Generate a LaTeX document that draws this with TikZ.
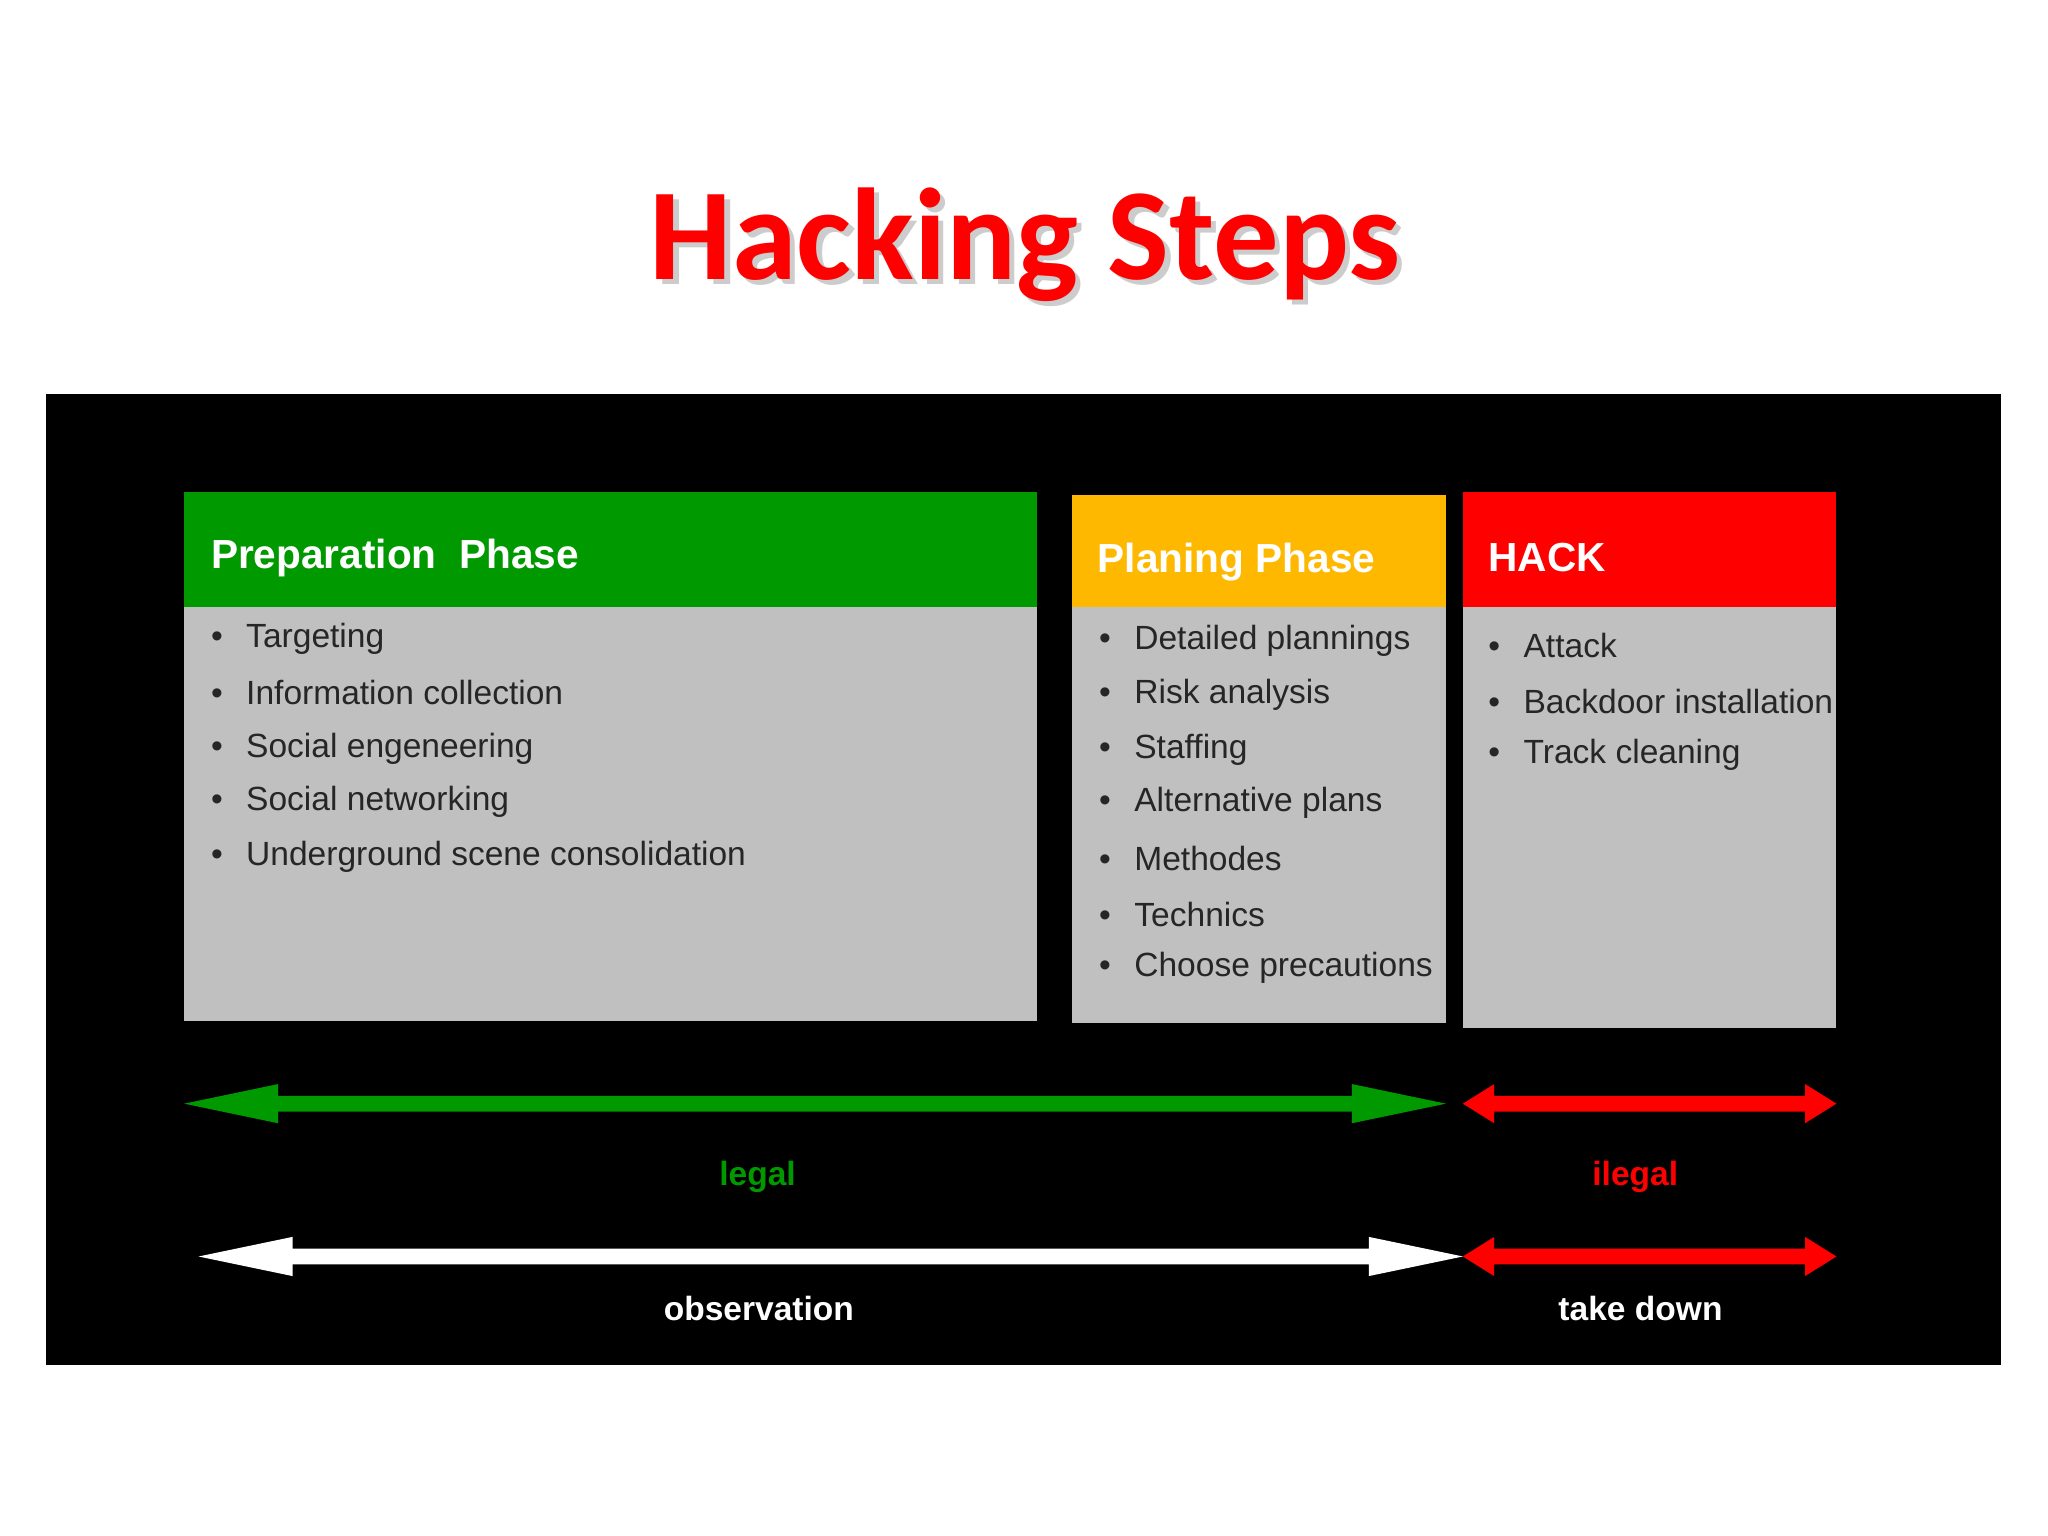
\documentclass[tikz,border=0pt]{standalone}
\usepackage{fontspec}
\setmainfont{Liberation Sans}
\newfontfamily\titlefont{Carlito}
\definecolor{gr}{RGB}{0,153,0}
\definecolor{og}{RGB}{255,184,0}
\definecolor{rd}{RGB}{255,0,0}
\definecolor{lg}{RGB}{192,192,192}
\newcommand{\dblarrow}[5]{% x1,x2,y,head,color
  \fill[#5] (#1,#3) -- (#1+#4,#3-15) -- (#1+#4,#3-6) -- (#2-#4,#3-6) -- (#2-#4,#3-15) -- (#2,#3) -- (#2-#4,#3+15) -- (#2-#4,#3+6) -- (#1+#4,#3+6) -- (#1+#4,#3+15) -- cycle;}
\begin{document}
\begin{tikzpicture}[x=0.013cm,y=-0.013cm,
  hdr/.style={anchor=west,text=white,font=\fontsize{11.5}{13}\selectfont\bfseries},
  itm/.style={anchor=west,text=black!85,font=\fontsize{9.5}{11}\selectfont},
  lbl/.style={font=\fontsize{9.5}{11}\selectfont\bfseries}]
\useasboundingbox (0,0) rectangle (1568,1176);
\node[text=black!40,opacity=0.5] (tsh) at (789,191) {\titlefont\fontsize{37}{40}\selectfont\bfseries Hacking Steps};
\node[text=rd] (title) at (785,187) {\titlefont\fontsize{37}{40}\selectfont\bfseries Hacking Steps};
\fill[black] (35,302) rectangle (1532,1045);
% boxes
\fill[gr] (141,377) rectangle (794,465); \fill[lg] (141,465) rectangle (794,782);
\fill[og] (821,379) rectangle (1107,465); \fill[lg] (821,465) rectangle (1107,783);
\fill[rd] (1120,377) rectangle (1406,465); \fill[lg] (1120,465) rectangle (1406,787);
\node[hdr] (h1) at (152,427) {Preparation\ \ Phase};
\node[hdr] (h2) at (831,430) {Planing Phase};
\node[hdr] (h3) at (1130,427) {HACK};
\foreach \t/\y in {Targeting/489,Information collection/530,Social engeneering/573,Social networking/614,Underground scene consolidation/656}
  \node[itm] at (152,\y) {\textbullet\hspace{0.7em}\t};
\foreach \t/\y in {Detailed plannings/491,Risk analysis/532,Staffing/574,Alternative plans/615,Methodes/657,Technics/700,Choose precautions/741}
  \node[itm] at (832,\y) {\textbullet\hspace{0.7em}\t};
\foreach \t/\y in {Attack/494,Backdoor installation/537,Track cleaning/578}
  \node[itm] at (1130,\y) {\textbullet\hspace{0.7em}\t};
% arrows
\dblarrow{141}{1107}{845}{72}{gr}
\dblarrow{1120}{1406}{845}{24}{rd}
\dblarrow{152}{1120}{962}{72}{white}
\dblarrow{1120}{1406}{962}{24}{rd}
\node[lbl,text=gr] (legal) at (580,901) {legal};
\node[lbl,text=rd] (ilegal) at (1252,901) {ilegal};
\node[lbl,text=white] (obs) at (581,1002) {observation};
\node[lbl,text=white] (td) at (1256,1002) {take down};
\end{tikzpicture}
\end{document}
